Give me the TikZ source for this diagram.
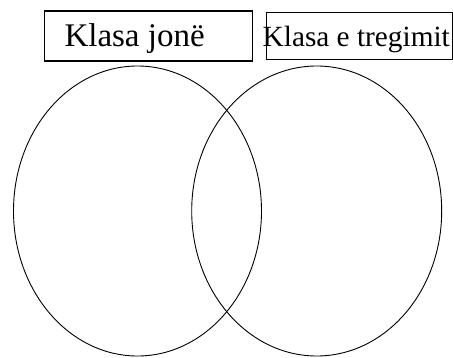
\documentclass[tikz,border=0pt]{standalone}
\usepackage{fontspec}
\setmainfont{Liberation Serif}
\usetikzlibrary{shapes.geometric}
\begin{document}
\begin{tikzpicture}[x=1pt, y=-1pt,
  title box/.style={rectangle,draw,line width=1.2pt,inner sep=0pt},
  title text/.style={anchor=base west,inner sep=0pt},
  set ellipse/.style={ellipse,draw,line width=0.9pt,inner sep=0pt,minimum height=290pt}]
\useasboundingbox (0,0) rectangle (453,357);
\node [title box,minimum width=208pt,minimum height=50pt](box1) at (148.4,35.9) {};
\node [title box,minimum width=186pt,minimum height=46.5pt](box2) at (359.2,36) {};
\node [title text,font=\fontsize{33}{36}\selectfont](t1) at (64.3,46) {Klasa jonë};
\node [title text,font=\fontsize{29.3}{32}\selectfont](t2) at (262.5,46) {Klasa e tregimit};
\node [set ellipse,minimum width=248pt](e1) at (137.5,211) {};
\node [set ellipse,minimum width=250pt](e2) at (316.7,211) {};
\end{tikzpicture}
\end{document}
